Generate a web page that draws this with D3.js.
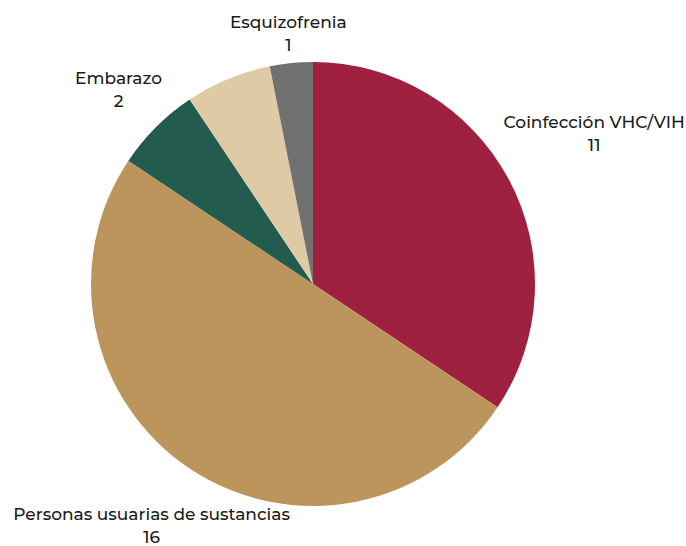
<!DOCTYPE html>
<html>
<head>
<meta charset="utf-8">
<script src="https://cdn.jsdelivr.net/npm/d3@7"></script>
<style>
  html, body { margin: 0; padding: 0; background: #fff; }
  svg { display: block; }
  text { font-family: "Montserrat", "Inter", "Noto Sans", sans-serif; fill: #1b1b1b; }
</style>
</head>
<body>
<svg id="chart" width="686" height="546"></svg>
<script>
// Slices, clockwise from 12 o'clock
const categories = ["Coinfección VHC/VIH", "Personas usuarias de sustancias", "Embarazo", "Otros", "Esquizofrenia"];
const values = [11, 16, 2, 2, 1];
const showLabel = [true, true, true, false, true];
const colors = ["#A0213F", "#BC955C", "#235B4E", "#DECAA4", "#6F7271"];

const width = 686, height = 546;
const cx = 313, cy = 284, radius = 222;

// distance from centre to each label block's anchor
const labelRadius = [318.8, 290.5, 275, 260, 251.7];

const svg = d3.select("#chart");
const g = svg.append("g").attr("transform", `translate(${cx},${cy})`);

const data = categories.map((c, i) => ({ name: c, value: values[i], color: colors[i], show: showLabel[i], lr: labelRadius[i] }));

const pie = d3.pie().value(d => d.value).sort(null);
const arc = d3.arc().innerRadius(0).outerRadius(radius);
const arcs = pie(data);

g.selectAll("path.slice")
  .data(arcs)
  .join("path")
  .attr("class", "slice")
  .attr("d", arc)
  .attr("fill", d => d.data.color)
  .attr("stroke", "none");

const labels = g.selectAll("g.label")
  .data(arcs.filter(d => d.data.show))
  .join("g")
  .attr("class", "label")
  .attr("transform", d => {
    const a = (d.startAngle + d.endAngle) / 2;
    const x = Math.sin(a) * d.data.lr;
    const y = -Math.cos(a) * d.data.lr;
    return `translate(${x},${y})`;
  });

labels.append("text")
  .attr("text-anchor", "middle")
  .attr("y", -5.5)
  .style("font-size", "17px")
  .style("font-weight", 500)
  .text(d => d.data.name);

labels.append("text")
  .attr("text-anchor", "middle")
  .attr("y", 17)
  .style("font-size", "17px")
  .style("font-weight", 500)
  .text(d => d3.format("d")(d.data.value));
</script>
</body>
</html>
